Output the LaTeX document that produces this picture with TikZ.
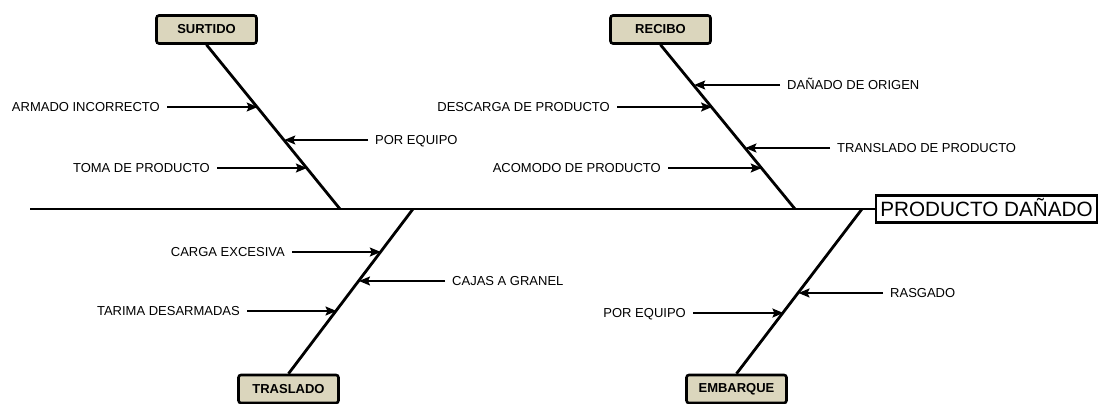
\documentclass[tikz,border=0pt]{standalone}
\usepackage{fontspec}
\setmainfont{Liberation Sans}
\usetikzlibrary{arrows.meta}
\definecolor{cajafondo}{RGB}{219,214,189}

\begin{document}
\begin{tikzpicture}[x=1pt,y=-1pt,
		causa/.style={draw,line width=2.6pt,rounded corners=2.5pt,fill=cajafondo,minimum width=100pt,minimum height=28pt,inner sep=0pt,font=\fontsize{13}{15}\selectfont\bfseries},
		efecto/.style={draw,line width=2.2pt,fill=white,minimum width=221pt,minimum height=27pt,inner sep=0pt,text height=14.8pt,text depth=0pt,font=\fontsize{20.7}{24}\selectfont},
		texto/.style={inner xsep=7pt,inner ysep=0pt,text height=9.3pt,text depth=0pt,font=\fontsize{13}{15}\selectfont},
		espina/.style={line width=2.8pt},
		flecha/.style={line width=1.7pt,-{Stealth[length=11pt,width=9pt,inset=2pt]}}]
			
			\useasboundingbox (0,0) rectangle (1098,404);
			
			\node [causa] (surtido) at (206.5,29.5) {SURTIDO};
			\node [causa] (recibo) at (660.5,29.5) {RECIBO};
			\node [causa] (traslado) at (288.5,389) {TRASLADO};
			\node [causa] (embarque) at (736.5,389) {EMBARQUE};
			\node [efecto] (efecto) at (986.5,209) {PRODUCTO DAÑADO};
			
			\coordinate (cola) at (30,209);
			\coordinate (js) at (340,209);
			\coordinate (jr) at (795,209);
			\coordinate (jt) at (413,209);
			\coordinate (je) at (862,209);
			
			\draw [espina] (cola) -- (efecto.west);
			\draw [espina] (surtido.south) -- (js);
			\draw [espina] (recibo.south) -- (jr);
			\draw [espina] (traslado.north) -- (jt);
			\draw [espina] (embarque.north) -- (je);
			
			\coordinate (s1) at (257.7,107);
			\coordinate (s2) at (284.3,140);
			\coordinate (s3) at (306.9,168);
			\node [texto,anchor=east] (armado) at (167,107) {ARMADO INCORRECTO};
			\node [texto,anchor=west] (equipo1) at (368,140) {POR EQUIPO};
			\node [texto,anchor=east] (toma) at (217,168) {TOMA DE PRODUCTO};
			\draw [flecha] (armado) -- (s1);
			\draw [flecha] (equipo1) -- (s2);
			\draw [flecha] (toma) -- (s3);
			
			\coordinate (r1) at (694.2,85);
			\coordinate (r2) at (712.1,107);
			\coordinate (r3) at (745.4,148);
			\coordinate (r4) at (761.7,168);
			\node [texto,anchor=west] (origen) at (780,85) {DAÑADO DE ORIGEN};
			\node [texto,anchor=east] (descarga) at (617,107) {DESCARGA DE PRODUCTO};
			\node [texto,anchor=west] (translado) at (830,148) {TRANSLADO DE PRODUCTO};
			\node [texto,anchor=east] (acomodo) at (668,168) {ACOMODO DE PRODUCTO};
			\draw [flecha] (origen) -- (r1);
			\draw [flecha] (descarga) -- (r2);
			\draw [flecha] (translado) -- (r3);
			\draw [flecha] (acomodo) -- (r4);
			
			\coordinate (t1) at (380.8,252);
			\coordinate (t2) at (359,281);
			\coordinate (t3) at (336.5,311);
			\node [texto,anchor=east] (carga) at (292,252) {CARGA EXCESIVA};
			\node [texto,anchor=west] (cajas) at (445,281) {CAJAS A GRANEL};
			\node [texto,anchor=east] (tarima) at (247,311) {TARIMA DESARMADAS};
			\draw [flecha] (carga) -- (t1);
			\draw [flecha] (cajas) -- (t2);
			\draw [flecha] (tarima) -- (t3);
			
			\coordinate (e1) at (798.5,293);
			\coordinate (e2) at (783.4,313);
			\node [texto,anchor=west] (rasgado) at (883,293) {RASGADO};
			\node [texto,anchor=east] (equipo2) at (693,313) {POR EQUIPO};
			\draw [flecha] (rasgado) -- (e1);
			\draw [flecha] (equipo2) -- (e2);
		\end{tikzpicture}
\end{document}
